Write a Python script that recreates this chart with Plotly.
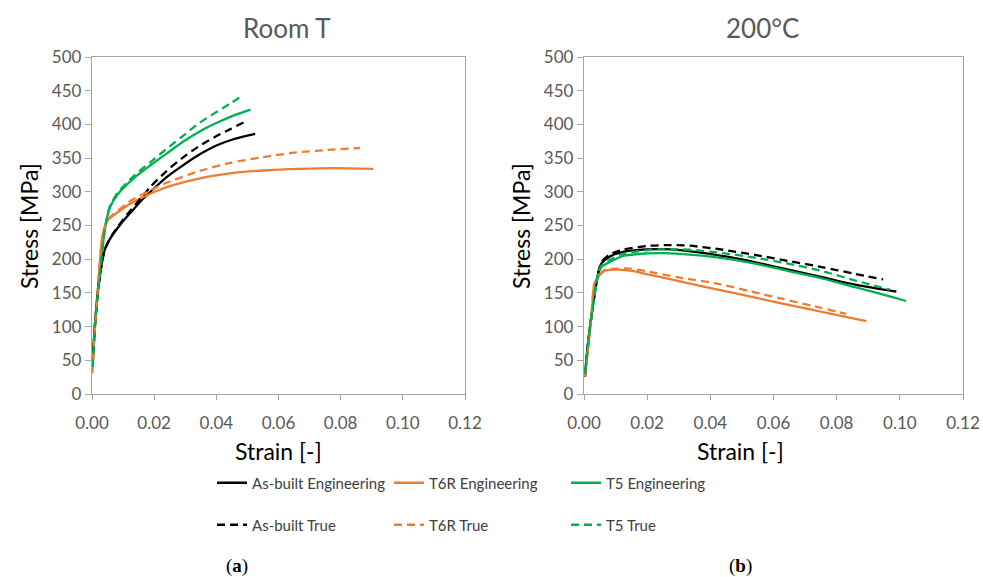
import plotly.graph_objects as go

# ---------------- data (Room T) ----------------
rt_ab_eng_x = [0.0002, 0.0009, 0.0019, 0.0028, 0.0041, 0.0062, 0.0094, 0.0126, 0.0159, 0.0195, 0.0241, 0.0295, 0.0348, 0.0402, 0.0455, 0.0525]
rt_ab_eng_y = [45, 100, 152, 184, 214, 233, 253, 270, 287, 303, 322, 340, 356, 369, 378, 386]
rt_ab_true_x = [0.0002, 0.0009, 0.0019, 0.0028, 0.0041, 0.0062, 0.0094, 0.0125, 0.0158, 0.0187, 0.0238, 0.029, 0.0342, 0.0394, 0.0445, 0.0493]
rt_ab_true_y = [45, 100, 152, 184, 214, 234, 255, 273, 291, 307, 330, 350, 367, 381, 393, 404]

rt_t6_eng_x = [0.0, 0.0009, 0.0018, 0.0025, 0.0035, 0.0051, 0.0084, 0.0126, 0.0202, 0.0241, 0.0348, 0.0455, 0.0562, 0.067, 0.0777, 0.0905]
rt_t6_eng_y = [31, 95, 150, 194, 238, 258, 270, 283, 300, 307, 320, 328, 332, 334, 335, 334]
rt_t6_true_x = [0.0, 0.0009, 0.0018, 0.0025, 0.0035, 0.0051, 0.0084, 0.0125, 0.02, 0.0238, 0.034, 0.0445, 0.0546, 0.065, 0.0755, 0.0862]
rt_t6_true_y = [31, 95, 150, 194, 238, 259, 272, 287, 305, 313, 330, 343, 351, 358, 362, 365]

rt_t5_eng_x = [0.0002, 0.0009, 0.0019, 0.0028, 0.0041, 0.0057, 0.0084, 0.0134, 0.0187, 0.0241, 0.0295, 0.0348, 0.040, 0.0455, 0.051]
rt_t5_eng_y = [40, 100, 152, 190, 243, 276, 297, 320, 339, 357, 375, 390, 402, 413, 422]
rt_t5_true_x = [0.0002, 0.0009, 0.0019, 0.0028, 0.0041, 0.0057, 0.0083, 0.0133, 0.0185, 0.0238, 0.029, 0.0342, 0.0392, 0.0445, 0.0488]
rt_t5_true_y = [40, 100, 152, 190, 244, 278, 299, 323, 343, 363, 382, 401, 416, 431, 444]

# ---------------- data (200 °C) ----------------
ht_ab_eng_x = [0.0003, 0.0014, 0.0029, 0.0045, 0.0056, 0.0082, 0.0124, 0.0198, 0.025, 0.0304, 0.0382, 0.0462, 0.0546, 0.0651, 0.0757, 0.0862, 0.0989]
ht_ab_eng_y = [26, 80, 134, 179, 194, 204, 211, 214.5, 215, 213.5, 209, 203, 195, 184, 173, 162, 152]
ht_ab_true_x = [0.0003, 0.0014, 0.0029, 0.0045, 0.0056, 0.0082, 0.0124, 0.0198, 0.026, 0.0335, 0.044, 0.0546, 0.0651, 0.0757, 0.085, 0.0947]
ht_ab_true_y = [26, 80, 134, 180, 196, 207, 214, 219.5, 221, 220, 214, 206, 197, 188, 179, 170]

ht_t6_eng_x = [0.0003, 0.0011, 0.0019, 0.0026, 0.0032, 0.0042, 0.0051, 0.0066, 0.0105, 0.0146, 0.0198, 0.0304, 0.0462, 0.0546, 0.0651, 0.0757, 0.0894]
ht_t6_eng_y = [26, 60, 95, 130, 162, 171, 177, 183, 184.5, 183, 178, 167, 151, 142.5, 132, 121.5, 108]
ht_t6_true_x = [0.0003, 0.0011, 0.0019, 0.0026, 0.0032, 0.0042, 0.0051, 0.0066, 0.0105, 0.0146, 0.02, 0.03, 0.043, 0.053, 0.063, 0.073, 0.083]
ht_t6_true_y = [26, 60, 95, 130, 162, 172, 178, 184, 186, 186, 182, 173, 163, 152, 141, 130, 119]

ht_t5_eng_x = [0.0003, 0.0014, 0.0029, 0.0045, 0.0056, 0.0082, 0.0124, 0.0198, 0.025, 0.0304, 0.0382, 0.0462, 0.0546, 0.0651, 0.0757, 0.0862, 0.0968, 0.102]
ht_t5_eng_y = [30, 80, 134, 178, 189, 196, 205, 208.5, 209, 208, 205, 200, 193, 182, 171, 158, 145, 138]
ht_t5_true_x = [0.0003, 0.0014, 0.0029, 0.0045, 0.0056, 0.0082, 0.0123, 0.0196, 0.0247, 0.0335, 0.044, 0.0546, 0.0651, 0.0757, 0.0862, 0.0968]
ht_t5_true_y = [30, 80, 134, 179, 191, 199, 208, 213, 214.5, 214, 209, 202, 193, 182, 168, 155]

y_ticks = [0, 50, 100, 150, 200, 250, 300, 350, 400, 450, 500]
x_ticks = [0.00, 0.02, 0.04, 0.06, 0.08, 0.10, 0.12]
x_tick_labels = ["0.00", "0.02", "0.04", "0.06", "0.08", "0.10", "0.12"]

panel_titles = ["Room T", "200°C"]
panel_labels = ["(<b>a</b>)", "(<b>b</b>)"]

BLACK = "#000000"
ORANGE = "#ED7D31"
GREEN = "#00B050"
DASH = "8px,5px"
LW = 2.3

W, H = 983, 577
ML, MR, MT, MB = 92, 20, 57, 183
PW, PH = W - ML - MR, H - MT - MB

def px(v):   # pixel x -> paper (plot-area) fraction
    return (v - ML) / PW
def py(v):   # pixel y -> paper (plot-area) fraction
    return (H - MB - v) / PH

fig = go.Figure()

series = [
    ("As-built Engineering", BLACK, "solid", "legend", rt_ab_eng_x, rt_ab_eng_y, ht_ab_eng_x, ht_ab_eng_y),
    ("T6R Engineering", ORANGE, "solid", "legend", rt_t6_eng_x, rt_t6_eng_y, ht_t6_eng_x, ht_t6_eng_y),
    ("T5 Engineering", GREEN, "solid", "legend", rt_t5_eng_x, rt_t5_eng_y, ht_t5_eng_x, ht_t5_eng_y),
    ("As-built True", BLACK, DASH, "legend2", rt_ab_true_x, rt_ab_true_y, ht_ab_true_x, ht_ab_true_y),
    ("T6R True", ORANGE, DASH, "legend2", rt_t6_true_x, rt_t6_true_y, ht_t6_true_x, ht_t6_true_y),
    ("T5 True", GREEN, DASH, "legend2", rt_t5_true_x, rt_t5_true_y, ht_t5_true_x, ht_t5_true_y),
]

for name, col, dash, leg, x1, y1, x2, y2 in series:
    fig.add_trace(go.Scatter(x=x1, y=y1, mode="lines", name=name, legend=leg,
                             line=dict(color=col, width=LW, dash=dash, shape="spline", smoothing=0.7),
                             xaxis="x", yaxis="y", showlegend=True))
    fig.add_trace(go.Scatter(x=x2, y=y2, mode="lines", name=name, legend=leg,
                             line=dict(color=col, width=LW, dash=dash, shape="spline", smoothing=0.7),
                             xaxis="x2", yaxis="y2", showlegend=False))

AX_COL = "#a6a6a6"
TICK_FONT = dict(family="Lato", size=17, color="#595959")

def xaxis(domain, anchor):
    return dict(domain=domain, anchor=anchor, range=[0, 0.12], tickvals=x_ticks, ticktext=x_tick_labels,
                showgrid=False, zeroline=False, showline=True, linecolor=AX_COL, linewidth=1.3, mirror=True,
                ticks="outside", ticklen=5, tickcolor=AX_COL, tickfont=TICK_FONT, fixedrange=True,
                automargin=False, ticklabelstandoff=8)

def yaxis(domain, anchor):
    return dict(domain=domain, anchor=anchor, range=[0, 500], tickvals=y_ticks,
                showgrid=False, zeroline=False, showline=True, linecolor=AX_COL, linewidth=1.3, mirror=True,
                ticks="outside", ticklen=6, tickcolor=AX_COL, tickfont=TICK_FONT, fixedrange=True,
                automargin=False)

LEG_FONT = dict(family="Lato", size=15, color="#404040")
fig.update_layout(
    width=W, height=H,
    margin=dict(l=ML, r=MR, t=MT, b=MB, autoexpand=False),
    paper_bgcolor="white", plot_bgcolor="white",
    xaxis=xaxis([0, px(465)], "y"),
    yaxis=yaxis([0, 1], "x"),
    xaxis2=xaxis([px(584), 1], "y2"),
    yaxis2=yaxis([0, 1], "x2"),
    legend=dict(orientation="h", xref="container", yref="container",
                x=212 / W, y=1 - 483 / H, xanchor="left", yanchor="middle",
                entrywidth=132, font=LEG_FONT, bgcolor="rgba(0,0,0,0)", itemwidth=30),
    legend2=dict(orientation="h", xref="container", yref="container",
                 x=212 / W, y=1 - 525 / H, xanchor="left", yanchor="middle",
                 entrywidth=132, font=LEG_FONT, bgcolor="rgba(0,0,0,0)", itemwidth=30),
    showlegend=True,
)

annotations = []
for cx, t in zip([287, 762], panel_titles):
    annotations.append(dict(text=t, x=px(cx), y=py(28), xref="paper", yref="paper", showarrow=False,
                            xanchor="center", yanchor="middle",
                            font=dict(family="Lato", size=26, color="#595959")))
for cx in [278, 740]:
    annotations.append(dict(text="Strain [-]", x=px(cx), y=py(451), xref="paper", yref="paper", showarrow=False,
                            xanchor="center", yanchor="middle", font=dict(family="Lato", size=23, color="#000000")))
for cx in [29, 521]:
    annotations.append(dict(text="Stress [MPa]", x=px(cx), y=py(226), xref="paper", yref="paper", showarrow=False,
                            xanchor="center", yanchor="middle", textangle=-90,
                            font=dict(family="Lato", size=23, color="#000000")))
for cx, t in zip([237, 740], panel_labels):
    annotations.append(dict(text=t, x=px(cx), y=py(566), xref="paper", yref="paper", showarrow=False,
                            xanchor="center", yanchor="middle",
                            font=dict(family="Liberation Serif", size=19, color="#000000")))
fig.update_layout(annotations=annotations)

fig.write_html("out.html", config={"displayModeBar": False},
               post_script="document.body.style.margin='0';document.body.style.overflow='hidden';")
